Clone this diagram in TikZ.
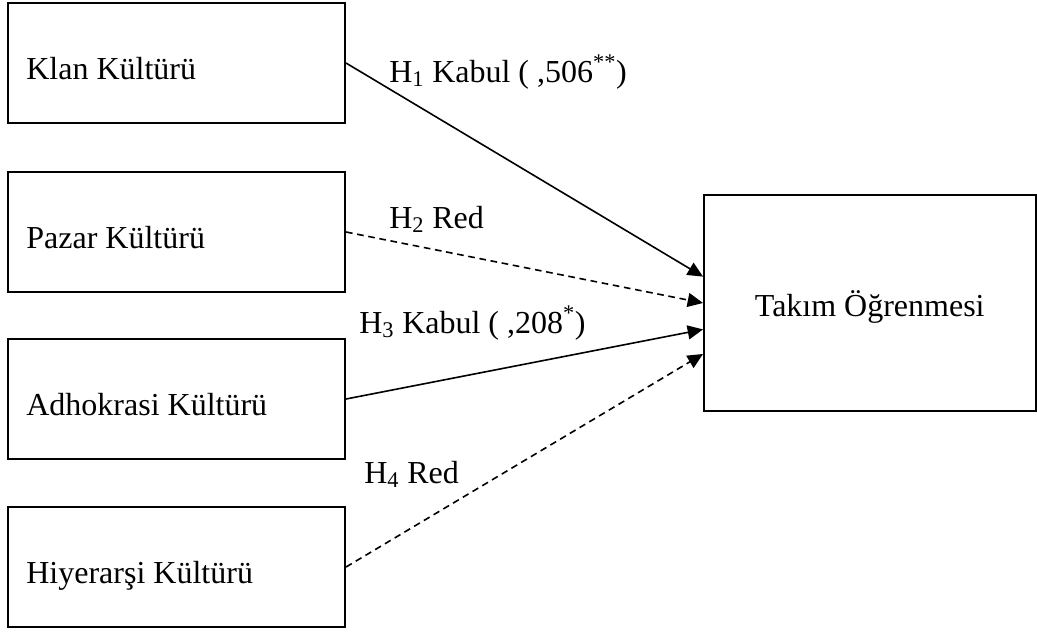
\documentclass[tikz,border=0pt]{standalone}
\usepackage{fontspec}
\setmainfont{Liberation Serif}
\usetikzlibrary{arrows.meta}

\begin{document}
\begin{tikzpicture}[x=0.75pt, y=-0.75pt,
		font=\fontsize{24}{28}\selectfont,
		kultur/.style={draw, line width=1.5pt, minimum width=252.75pt, minimum height=90pt, inner sep=0pt},
		sonuc/.style={draw, line width=1.5pt, minimum width=248.6pt, minimum height=162pt, inner sep=0pt},
		kabul/.style={line width=1.2pt, -{Triangle[length=11.5pt, width=10.5pt]}},
		red/.style={kabul, dash pattern=on 5pt off 3.5pt},
		etiket/.style={anchor=base west, inner sep=0pt}]
		
		\useasboundingbox (0,0) rectangle (1037,633);
		
		\node[kultur, label={[anchor=base west, xshift=11pt, yshift=-12pt]west:Klan Kültürü}] (klan) at (176.5,63) {};
		\node[kultur, label={[anchor=base west, xshift=11pt, yshift=-12pt]west:Pazar Kültürü}] (pazar) at (176.5,232) {};
		\node[kultur, label={[anchor=base west, xshift=11pt, yshift=-12pt]west:Adhokrasi Kültürü}] (adhok) at (176.5,399) {};
		\node[kultur, label={[anchor=base west, xshift=11pt, yshift=-12pt]west:Hiyerarşi Kültürü}] (hiyer) at (176.5,567) {};
		
		\node[sonuc, label={[anchor=base, yshift=-3pt]center:Takım Öğrenmesi}] (takim) at (869.75,303) {};
		
		%hipotezler
		\draw[kabul] (klan.east) -- (takim.171);
		\draw[red] (pazar.east) -- (takim.180);
		\draw[kabul] (adhok.east) -- (takim.189);
		\draw[red] (hiyer.east) -- (takim.197);
		
		%etiketler
		\node[etiket] (h1) at (389,82) {H\textsubscript{1} Kabul ( ,506\textsuperscript{**})};
		\node[etiket] (h2) at (389,228) {H\textsubscript{2} Red};
		\node[etiket] (h3) at (359,333) {H\textsubscript{3} Kabul ( ,208\textsuperscript{*})};
		\node[etiket] (h4) at (364,483) {H\textsubscript{4} Red};
	\end{tikzpicture}
\end{document}
